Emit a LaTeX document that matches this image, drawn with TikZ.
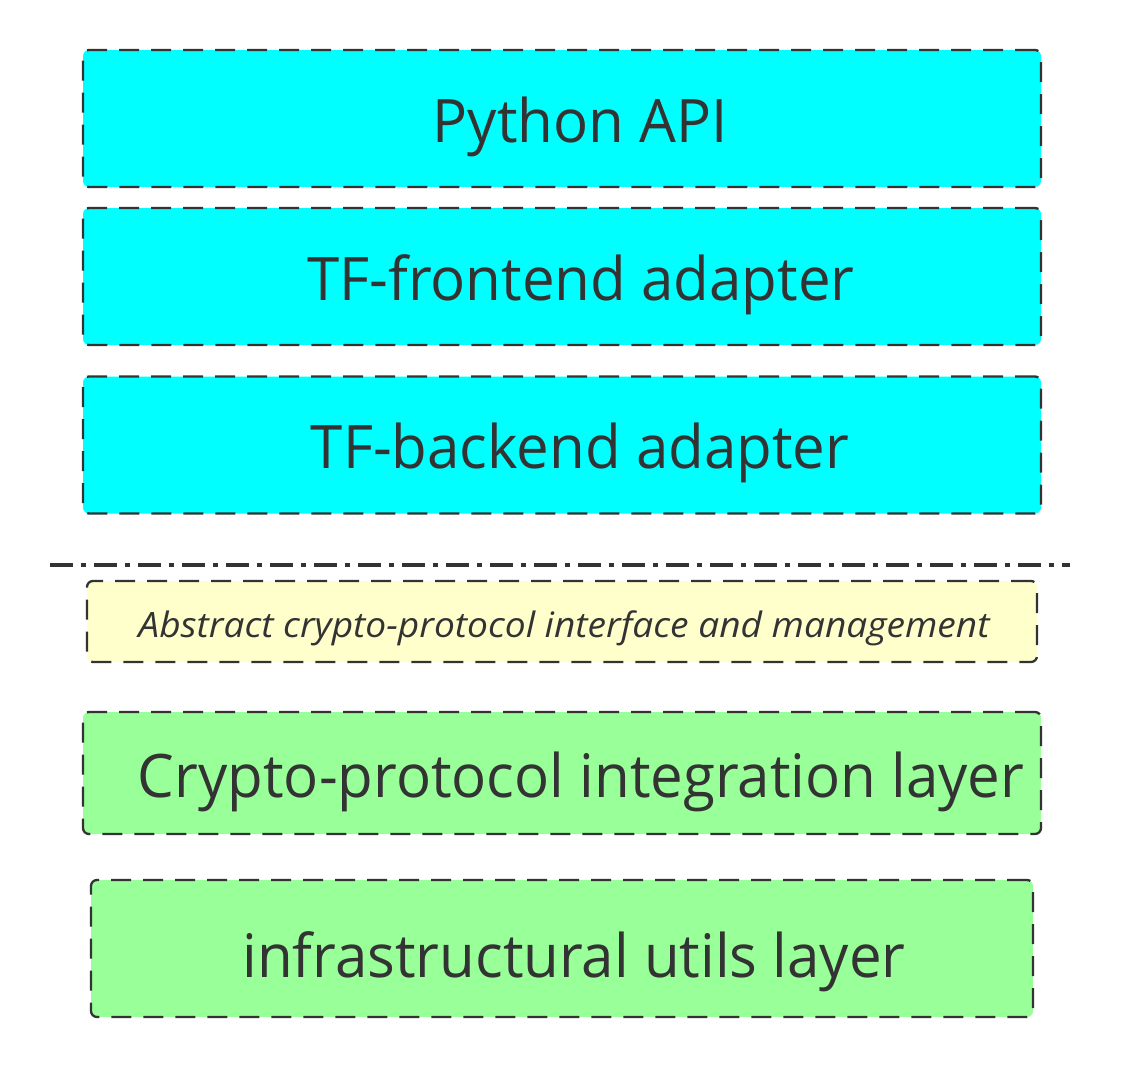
\documentclass[tikz,border=0pt]{standalone}
\usepackage{fontspec}
\setmainfont{Open Sans}
\newfontfamily\mainlayerfont[FakeStretch=0.97]{Open Sans}
\newfontfamily\italiclayerfont[FakeStretch=1.06]{Open Sans Italic}
\definecolor{ink}{HTML}{333333}
\definecolor{cyanfill}{HTML}{00FFFF}
\definecolor{yellowfill}{HTML}{FFFFCC}
\definecolor{greenfill}{HTML}{99FF99}
\tikzset{
  layerbox/.style={draw=ink, line width=2.3pt, dash pattern=on 20pt off 12pt, rounded corners=6pt, inner sep=0pt},
  bigtext/.style={anchor=base, text=ink, inner sep=0pt, font=\mainlayerfont\fontsize{60}{72}\selectfont},
  smalltext/.style={anchor=base, text=ink, inner sep=0pt, font=\italiclayerfont\fontsize{35}{42}\selectfont},
}
\begin{document}
\begin{tikzpicture}[x=1pt, y=-1pt]
\useasboundingbox (0,0) rectangle (1137,1068);
\node[layerbox, fill=cyanfill, minimum width=958pt, minimum height=137pt] (b1) at (562,118.5) {};
\node[layerbox, fill=cyanfill, minimum width=958pt, minimum height=137pt] (b2) at (562,276.5) {};
\node[layerbox, fill=cyanfill, minimum width=958pt, minimum height=137pt] (b3) at (562,445) {};
\node[layerbox, fill=yellowfill, minimum width=950pt, minimum height=81pt] (b4) at (562,621.5) {};
\node[layerbox, fill=greenfill, minimum width=958pt, minimum height=122pt] (b5) at (562,773) {};
\node[layerbox, fill=greenfill, minimum width=942pt, minimum height=137pt] (b6) at (562,948.5) {};
\node[bigtext] (t1) at (580,142) {Python API};
\node[bigtext] (t2) at (581,300) {TF-frontend adapter};
\node[bigtext] (t3) at (580,468) {TF-backend adapter};
\node[smalltext] (t4) at (564,637) {Abstract crypto-protocol interface and management};
\node[bigtext] (t5) at (581,797) {Crypto-protocol integration layer};
\node[bigtext] (t6) at (574,977) {infrastructural utils layer};
\coordinate (sepL) at (50,565);
\coordinate (sepR) at (1070,565);
\draw[ink, line width=4pt, dash pattern=on 23pt off 8pt on 5pt off 8pt] (sepL) -- (sepR);
\end{tikzpicture}
\end{document}
